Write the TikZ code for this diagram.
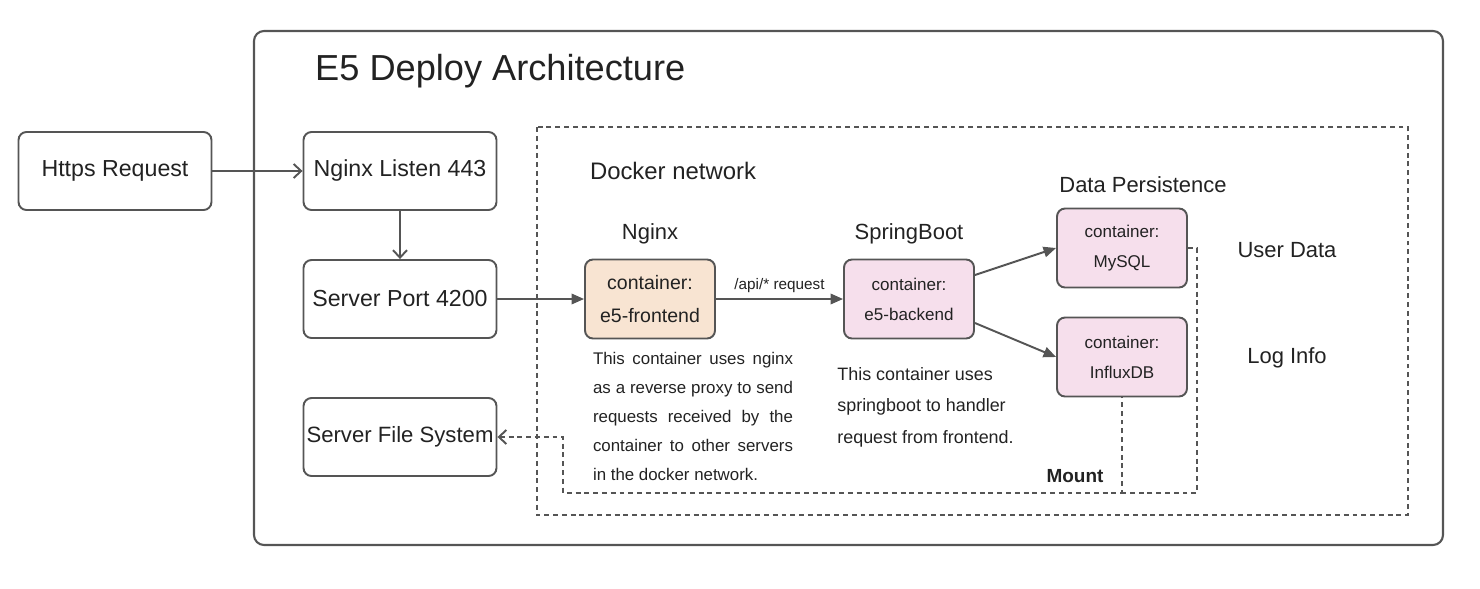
\documentclass[tikz,border=0pt]{standalone}
\usepackage{fontspec}
\setmainfont{Liberation Sans}
\usetikzlibrary{arrows.meta}
\definecolor{edge}{HTML}{555555}
\definecolor{ink}{HTML}{222222}
\definecolor{peach}{HTML}{F8E4D2}
\definecolor{pinkfill}{HTML}{F6DFEC}
\newcommand{\jline}[1]{\makebox[4cm][s]{#1}}

\begin{document}
\begin{tikzpicture}[x=0.02cm,y=-0.02cm,
  every node/.style={text=ink},
  box/.style={draw=edge,line width=1.1pt,rounded corners=0.16cm,minimum width=3.86cm,minimum height=1.56cm,inner sep=0pt,font=\fontsize{13.2}{15}\selectfont},
  cbox/.style={draw=edge,line width=1.1pt,rounded corners=0.16cm,fill=pinkfill,minimum width=2.6cm,minimum height=1.58cm,align=center,font=\fontsize{9.7}{17}\selectfont},
  lbl/.style={font=\fontsize{12.5}{15}\selectfont},
  conn/.style={draw=edge,line width=1.1pt,-{Triangle[length=2.5mm,width=2.1mm]}},
  openarrow/.style={draw=edge,line width=1.1pt,-{Straight Barb[length=1.5mm,width=2.8mm]}},
  dashline/.style={draw=edge,line width=1.1pt,dash pattern=on 2.8pt off 2.2pt}
]
\useasboundingbox (0,0) rectangle (1480,588);

% frames
\draw[edge,line width=1.2pt,rounded corners=0.2cm] (254,31) rectangle (1443,545);
\draw[dashline] (537,127) rectangle (1408,515);
\node[anchor=base west,font=\fontsize{20.6}{24}\selectfont] (title) at (309,81) {E5 Deploy Architecture};

% host side
\node[box] (https) at (115,171) {Https Request};
\node[box] (listen) at (400,171) {Nginx Listen 443};
\node[box] (port) at (400,299) {Server Port 4200};
\node[box,font=\fontsize{12.6}{15}\selectfont] (files) at (400,437) {Server File System};

% docker network
\node[font=\fontsize{13.6}{16}\selectfont] (docker) at (673,171) {Docker network};
\node[lbl] (nginxlbl) at (650,234) {Nginx};
\node[lbl] (springlbl) at (909,234) {SpringBoot};
\node[lbl] (datalbl) at (1143,185) {Data Persistence};
\node[lbl] (userlbl) at (1287,250) {User Data};
\node[lbl] (loglbl) at (1287,358) {Log Info};

\node[cbox,fill=peach,font=\fontsize{11.1}{18.8}\selectfont] (front) at (650,299) {container:\\e5-frontend};
\node[cbox] (back) at (909,299) {container:\\e5-backend};
\node[cbox] (mysql) at (1122,248) {container:\\MySQL};
\node[cbox] (influx) at (1122,357) {container:\\InfluxDB};

\node[align=left,inner sep=0pt,font=\fontsize{9.6}{16.5}\selectfont] (frontdesc) at (693,416)
  {\jline{This container uses nginx}\\\jline{as a reverse proxy to send}\\\jline{requests received by the}\\\jline{container to other servers}\\in the docker network.};
\node[anchor=west,align=left,inner sep=0pt,font=\fontsize{10.2}{17.9}\selectfont] (backdesc) at (837,407)
  {This container uses\\springboot to handler\\request from frontend.};
\node[font=\bfseries\fontsize{10.8}{13}\selectfont] (mount) at (1075,476) {Mount};

% connectors
\draw[openarrow] (https) -- (listen);
\draw[openarrow] (listen) -- (port);
\draw[conn] (port) -- (front);
\draw[conn] (front) -- node[above,font=\fontsize{8.7}{10}\selectfont] {/api/* request} (back);
\draw[conn] (back.20) -- (mysql.west);
\draw[conn] (back.-20) -- (influx.west);

\coordinate (join) at (influx.south |- 0,493);
\draw[dashline,{Straight Barb[length=1.5mm,width=2.8mm]}-] (files.east) -- ++(66,0) |- (join) -- (influx.south);
\draw[dashline] (mysql.east) -- ++(9,0) |- (join);

\end{tikzpicture}
\end{document}
